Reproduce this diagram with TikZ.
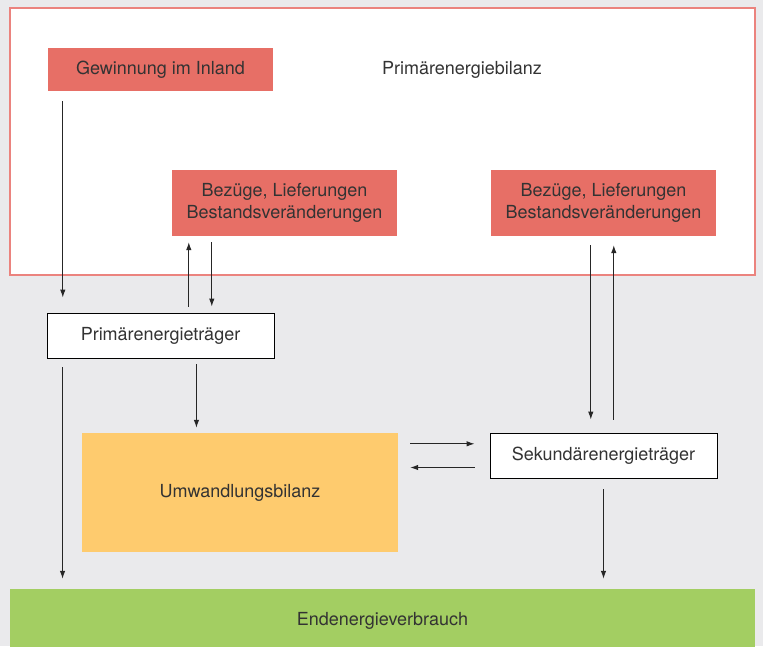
\documentclass[tikz,border=0pt]{standalone}
\usepackage{fontspec}
\setmainfont{TeX Gyre Heros}
\usetikzlibrary{arrows.meta,calc,positioning}
\definecolor{bggray}{HTML}{EAEAEC}
\definecolor{boxred}{HTML}{E76F66}
\definecolor{framered}{HTML}{EB837E}
\definecolor{boxyellow}{HTML}{FECB6E}
\definecolor{boxgreen}{HTML}{A3CE62}
\definecolor{txtgray}{HTML}{333333}
\tikzset{
  base/.style={inner sep=0pt, align=center, text=txtgray,
    font=\fontsize{18}{22}\selectfont},
  redbox/.style={base, fill=boxred, minimum width=225pt},
  whitebox/.style={base, fill=white, draw=black, line width=0.9pt,
    minimum width=227pt, minimum height=45pt},
  arr/.style={line width=1pt, black!85, -{Latex[length=8pt,width=5.5pt]}}
}
\begin{document}
\begin{tikzpicture}[x=1pt,y=-1pt]
          % background and frame
          \useasboundingbox (0,0) rectangle (763,646);
          \fill[bggray] (0,0) rectangle (763,646);
          \filldraw[fill=white, draw=framered, line width=1.2pt] (10,8) rectangle (755,275);

          % Primaerbilanz
          \node[redbox, minimum height=43pt] (gew) at (160.5,69.5) {Gewinnung im Inland};
          \node[base] (pbil) at (462,70) {Primärenergiebilanz};
          \node[redbox, minimum height=66pt] (bez1) at (284.5,203) {Bezüge, Lieferungen\\Bestandsveränderungen};
          \node[redbox, minimum height=66pt] (bez2) at (603.5,203) {Bezüge, Lieferungen\\Bestandsveränderungen};

          % Traeger und Umwandlung
          \node[whitebox] (prim) at (160.5,335.5) {Primärenergieträger};
          \node[base, fill=boxyellow, minimum width=316pt, minimum height=119pt] (umw) at (240,492.5) {Umwandlungsbilanz};
          \node[whitebox] (sek) at (603.5,455.5) {Sekundärenergieträger};
          \node[base, fill=boxgreen, minimum width=745pt, minimum height=64pt] (end) at (382.5,621) {Endenergieverbrauch};

          %arrows
          \draw[arr, shorten <=10pt, shorten >=15pt] ([xshift=15pt]gew.south west) -- ([xshift=15pt]gew.south west |- prim.north);
          \draw[arr, shorten <=6pt, shorten >=6pt] ([xshift=17pt]bez1.south west |- prim.north) -- ([xshift=17pt]bez1.south west);
          \draw[arr, shorten <=6pt, shorten >=6pt] ([xshift=40pt]bez1.south west) -- ([xshift=40pt]bez1.south west |- prim.north);
          \draw[arr, shorten <=9pt, shorten >=10pt] ([xshift=16pt]prim.south west) -- ([xshift=16pt]prim.south west |- end.north);
          \draw[arr, shorten <=6pt, shorten >=5pt] ([xshift=-78pt]prim.south east) -- ([xshift=-78pt]prim.south east |- umw.north);
          \draw[arr, shorten <=9pt, shorten >=13pt] ([xshift=100pt]bez2.south west) -- ([xshift=100pt]bez2.south west |- sek.north);
          \draw[arr, shorten <=13pt, shorten >=9pt] ([xshift=123pt]bez2.south west |- sek.north) -- ([xshift=123pt]bez2.south west);
          \draw[arr, shorten <=11pt, shorten >=10pt] (sek.south) -- (sek.south |- end.north);
          \draw[arr, shorten <=12pt, shorten >=15pt] ([yshift=-11pt]umw.north east) -- ([yshift=-11pt]umw.north east -| sek.west);
          \draw[arr, shorten <=15pt, shorten >=12pt] ([yshift=-12pt]sek.west) -- ([yshift=-12pt]sek.west -| umw.east);
        \end{tikzpicture}
\end{document}
